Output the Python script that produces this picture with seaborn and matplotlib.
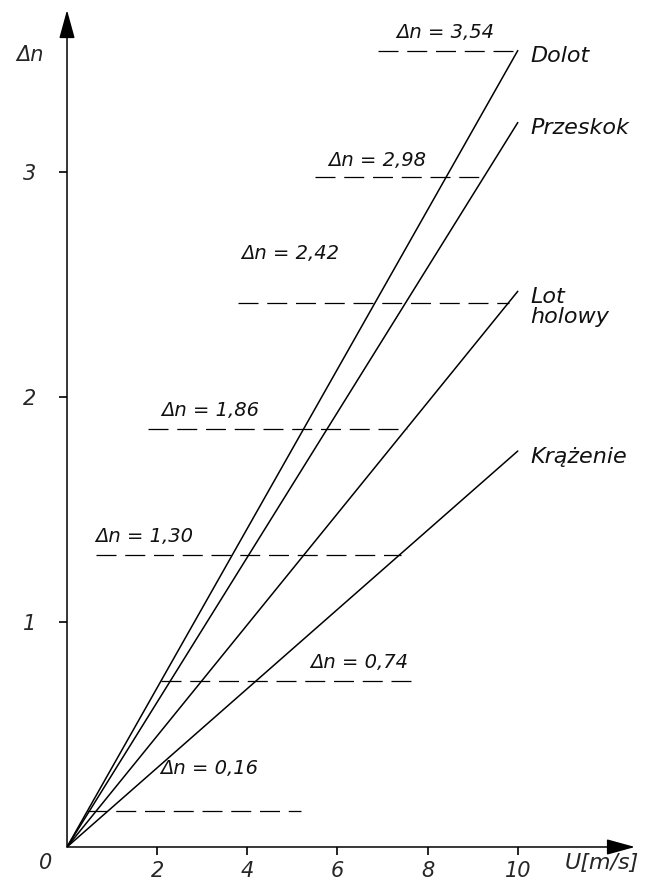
import numpy as np
import pandas as pd
import matplotlib
matplotlib.use("Agg")
import matplotlib.pyplot as plt
import seaborn as sns

# Load factor increment vs. gust velocity for four flight phases
phases = ["Dolot", "Przeskok", "Lot\nholowy", "Krążenie"]
u_end = [10.0, 10.0, 10.0, 10.0]
dn_end = [3.54, 3.22, 2.47, 1.76]

# Marked Δn levels, with the U range of each dashed guide
levels = [3.54, 2.98, 2.42, 1.86, 1.30, 0.74, 0.16]
level_labels = ["3,54", "2,98", "2,42", "1,86", "1,30", "0,74", "0,16"]
guide_start = [6.9, 5.5, 3.8, 1.8, 0.65, 2.09, 0.45]
guide_end = [10.0, 9.25, 9.8, 7.55, 7.4, 7.8, 5.2]
label_x = [7.3, 5.8, 3.87, 2.1, 0.62, 5.4, 2.06]
label_y = [3.62, 3.05, 2.64, 1.94, 1.38, 0.82, 0.35]

x_ticks = [2, 4, 6, 8, 10]
y_ticks = [1, 2, 3]

sns.set_style("white")
plt.rcParams["font.family"] = ["DejaVu Sans"]

fig = plt.figure(figsize=(6.57, 8.81), dpi=100)
ax = fig.add_axes([0.102, 0.0386, 0.8645, 0.950])

rows = []
for name, u, d in zip(phases, u_end, dn_end):
    rows.append({"U": 0.0, "dn": 0.0, "faza": name})
    rows.append({"U": u, "dn": d, "faza": name})
df = pd.DataFrame(rows)

sns.lineplot(data=df, x="U", y="dn", units="faza", estimator=None,
             color="black", lw=1.1, ax=ax, legend=False)

guides = pd.DataFrame({
    "U": np.ravel(list(zip(guide_start, guide_end))),
    "dn": np.repeat(levels, 2),
    "poziom": np.repeat(level_labels, 2),
})
sns.lineplot(data=guides, x="U", y="dn", units="poziom", estimator=None,
             color="black", lw=0.9, ax=ax, legend=False, dashes=False)
for line in ax.get_lines()[len(phases):]:
    line.set_dashes((16, 7))

txt = dict(fontsize=14, fontstyle="italic", color="#111111")
for lab, lx, ly in zip(level_labels, label_x, label_y):
    ax.text(lx, ly, f"Δn = {lab}", ha="left", va="center", **txt)

for name, d in zip(phases, dn_end):
    ax.text(10.27, d + 0.02, name, ha="left", va="top",
            linespacing=1.0, **{**txt, "fontsize": 16})

ax.set_xlim(0, 12.6)
ax.set_ylim(0, 3.72)
ax.set_xticks(x_ticks)
ax.set_yticks(y_ticks)
ax.set_xticklabels([str(v) for v in x_ticks], fontsize=15, fontstyle="italic")
ax.set_yticklabels([str(v) for v in y_ticks], fontsize=15, fontstyle="italic")
ax.tick_params(axis="both", direction="out", length=6, width=1.2,
               color="black", bottom=True, left=True)
ax.tick_params(axis="x", pad=4)
ax.tick_params(axis="y", pad=16)
ax.set_xlabel("")
ax.set_ylabel("")
for s in ax.spines.values():
    s.set_visible(False)

# Axis arrows
arrow = dict(arrowstyle="-|>,head_length=0.8,head_width=0.22", color="black",
             lw=1.1, mutation_scale=22, shrinkA=0, shrinkB=0)
ax.annotate("", xy=(1.0, 0), xytext=(0, 0), xycoords="axes fraction",
            arrowprops=arrow, annotation_clip=False)
ax.annotate("", xy=(0, 1.0), xytext=(0, 0), xycoords="axes fraction",
            arrowprops=arrow, annotation_clip=False)

ax.text(-0.037, -0.019, "0", transform=ax.transAxes, ha="center",
        va="center", fontsize=15, fontstyle="italic")
ax.text(0.942, -0.019, "U[m/s]", transform=ax.transAxes, ha="center",
        va="center", fontsize=16, fontstyle="italic")
ax.text(-0.065, 0.946, "Δn", transform=ax.transAxes, ha="center",
        va="center", fontsize=15, fontstyle="italic")

fig.savefig("out.png", dpi=100)
